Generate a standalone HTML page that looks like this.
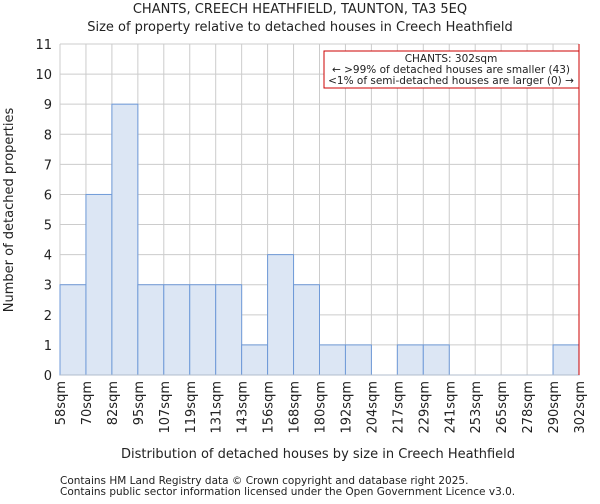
<!DOCTYPE html>
<html><head><meta charset="utf-8"><style>
body{margin:0;background:#fff;font-family:"DejaVu Sans","Liberation Sans",sans-serif}
svg text{font-family:"DejaVu Sans","Liberation Sans",sans-serif;fill:#222}
</style></head><body>
<svg id="chart" width="600" height="500" viewBox="0 0 600 500">
<text x="300" y="13" font-size="13" text-anchor="middle">CHANTS, CREECH HEATHFIELD, TAUNTON, TA3 5EQ</text>
<text x="300" y="31" font-size="13" text-anchor="middle">Size of property relative to detached houses in Creech Heathfield</text>
<g id="grid"></g><g id="bars"></g><g id="xt"></g><g id="yt"></g>
<text x="318" y="458" font-size="13" text-anchor="middle">Distribution of detached houses by size in Creech Heathfield</text>
<text transform="translate(13,210) rotate(-90)" font-size="13" text-anchor="middle">Number of detached properties</text>
<line x1="579" y1="44" x2="579" y2="375" stroke="#c00" stroke-width="1"/>
<g>
<rect x="324" y="51" width="255" height="37" fill="#fff" stroke="#c00" stroke-width="1"/>
<text x="451" y="62" font-size="10.5" text-anchor="middle">CHANTS: 302sqm</text>
<text x="451" y="73" font-size="10.5" text-anchor="middle">← &gt;99% of detached houses are smaller (43)</text>
<text x="451" y="84" font-size="10.5" text-anchor="middle">&lt;1% of semi-detached houses are larger (0) →</text>
</g>
<text x="60" y="484" font-size="10.5">Contains HM Land Registry data © Crown copyright and database right 2025.</text>
<text x="60" y="495" font-size="10.5">Contains public sector information licensed under the Open Government Licence v3.0.</text>
</svg>
<script>
const binLabels=["58sqm","70sqm","82sqm","95sqm","107sqm","119sqm","131sqm","143sqm","156sqm","168sqm","180sqm","192sqm","204sqm","217sqm","229sqm","241sqm","253sqm","265sqm","278sqm","290sqm","302sqm"];
const counts=[3,6,9,3,3,3,3,1,4,3,1,1,0,1,1,0,0,0,0,1];
const yTicks=[0,1,2,3,4,5,6,7,8,9,10,11];
const NS="http://www.w3.org/2000/svg";
const L=60,R=579,T=44,B=375,yMax=11;
const n=counts.length,bw=(R-L)/n;
const x=i=>L+i*bw, y=v=>B-(v/yMax)*(B-T);
function mk(t,a,p){const e=document.createElementNS(NS,t);for(const k in a)e.setAttribute(k,a[k]);p.appendChild(e);return e;}
const g=document.getElementById('grid'),bars=document.getElementById('bars'),xt=document.getElementById('xt'),yt=document.getElementById('yt');
yTicks.forEach(v=>{
 const l=mk('line',{x1:L,x2:R,y1:y(v),y2:y(v),stroke:'#ccc','stroke-width':1},g);
 
 
 const t=mk('text',{x:L-8,y:y(v)+5,'font-size':13,'text-anchor':'end'},yt);t.textContent=v;
 
 
});
binLabels.forEach((s,i)=>{
 const l=mk('line',{x1:x(i),x2:x(i),y1:T,y2:B,stroke:'#ccc','stroke-width':1},g);
 
 
 const t=mk('text',{transform:`translate(${x(i)+5},381) rotate(-90)`,'font-size':13,'text-anchor':'end'},xt);t.textContent=s;
 
 
});
counts.forEach((v,i)=>{
 if(v<=0)return;
 const r=mk('rect',{x:x(i),y:y(v),width:bw,height:B-y(v),fill:'#dce6f4',stroke:'#6f9ad8','stroke-width':1},bars);
 
 
});
const ax=mk('line',{x1:L,x2:R,y1:B,y2:B,stroke:'#b0bccc','stroke-width':1},bars);


</script>
</body></html>
